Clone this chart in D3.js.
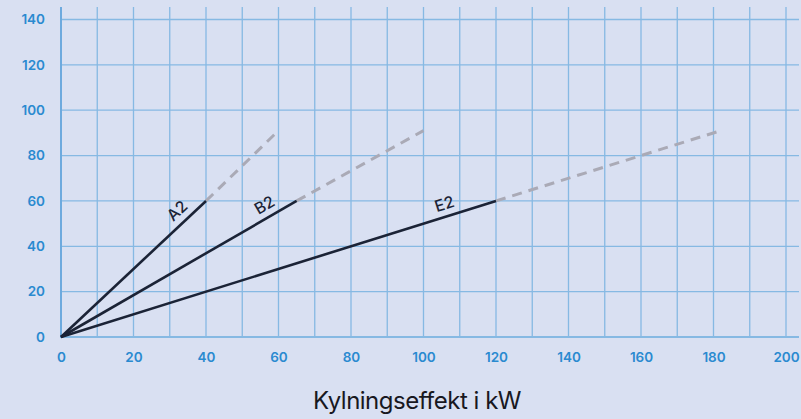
<!DOCTYPE html>
<html><head><meta charset="utf-8">
<script src="https://cdn.jsdelivr.net/npm/d3@7"></script>
<style>
html,body{margin:0;padding:0;background:#d9e0f2;}
svg{display:block;}
</style></head>
<body>
<svg id="chart" width="801" height="419"></svg>
<script>
const xTicks = [0,20,40,60,80,100,120,140,160,180,200];
const yTicks = [0,20,40,60,80,100,120,140];
const seriesNames = ["A2","B2","E2"];
const solidEndX = [40,65,120];
const solidEndY = [60,60,60];
const dashEndX = [60,100,182];
const dashEndY = [91,91,91];
const xTitle = "Kylningseffekt i kW";

const svg = d3.select("#chart");
const x = d3.scaleLinear().domain([0,200]).range([61,786]);
const y = d3.scaleLinear().domain([0,140]).range([337,19.5]);
const gridColor = "#86b9e3";

const g = svg.append("g");
d3.range(10,205,10).forEach(v=>{
  g.append("line").attr("x1",x(v)).attr("x2",x(v)).attr("y1",7).attr("y2",337)
   .attr("stroke",gridColor).attr("stroke-width",1.3);
});
yTicks.forEach(v=>{
  g.append("line").attr("x1",x(0)).attr("x2",799).attr("y1",y(v)).attr("y2",y(v))
   .attr("stroke",gridColor).attr("stroke-width",v===0?2:1.3);
});
g.append("line").attr("x1",x(0)).attr("x2",x(0)).attr("y1",7).attr("y2",338)
 .attr("stroke","#6eaade").attr("stroke-width",2);

const xAxis = svg.append("g").attr("transform","translate(0,337)")
  .call(d3.axisBottom(x).tickValues(xTicks).tickSize(0).tickPadding(15));
const yAxis = svg.append("g").attr("transform","translate(61,0)")
  .call(d3.axisLeft(y).tickValues(yTicks).tickSize(0).tickPadding(16));
[xAxis,yAxis].forEach(a=>{
  a.select(".domain").remove();
  a.selectAll("text").attr("fill","#2a8ad0").attr("font-family","Inter, 'Noto Sans', sans-serif")
   .attr("font-size","13.5px").attr("font-weight","600");
});

const line = d3.line().x(d=>x(d[0])).y(d=>y(d[1]));
seriesNames.forEach((n,i)=>{
  svg.append("path").attr("d",line([[solidEndX[i],solidEndY[i]],[dashEndX[i],dashEndY[i]]]))
    .attr("fill","none").attr("stroke","#aaaab6").attr("stroke-width",3)
    .attr("stroke-dasharray","10,7");
});
const frac = [0.86,0.89,0.89];
seriesNames.forEach((n,i)=>{
  svg.append("path").attr("d",line([[0,0],[solidEndX[i],solidEndY[i]]]))
    .attr("fill","none").attr("stroke","#1b2336").attr("stroke-width",2.6);
  const px = x(solidEndX[i]), py = y(solidEndY[i]);
  const ang = Math.atan2(py-y(0), px-x(0))*180/Math.PI;
  const lx = x(0)+(px-x(0))*frac[i];
  const ly = y(0)+(py-y(0))*frac[i];
  svg.append("text").attr("transform",`translate(${lx},${ly}) rotate(${ang}) translate(0,-7)`)
    .attr("text-anchor","middle").attr("fill","#1b2336")
    .attr("font-family","Inter, 'Noto Sans', sans-serif").attr("font-size","16px").attr("font-weight","500")
    .text(n);
});

svg.append("text").attr("x",417).attr("y",409).attr("text-anchor","middle")
  .attr("fill","#18181f").attr("font-family","Inter, 'Noto Sans', sans-serif")
  .attr("font-size","24px").attr("letter-spacing","-0.5px").text(xTitle);
</script>
</body></html>
